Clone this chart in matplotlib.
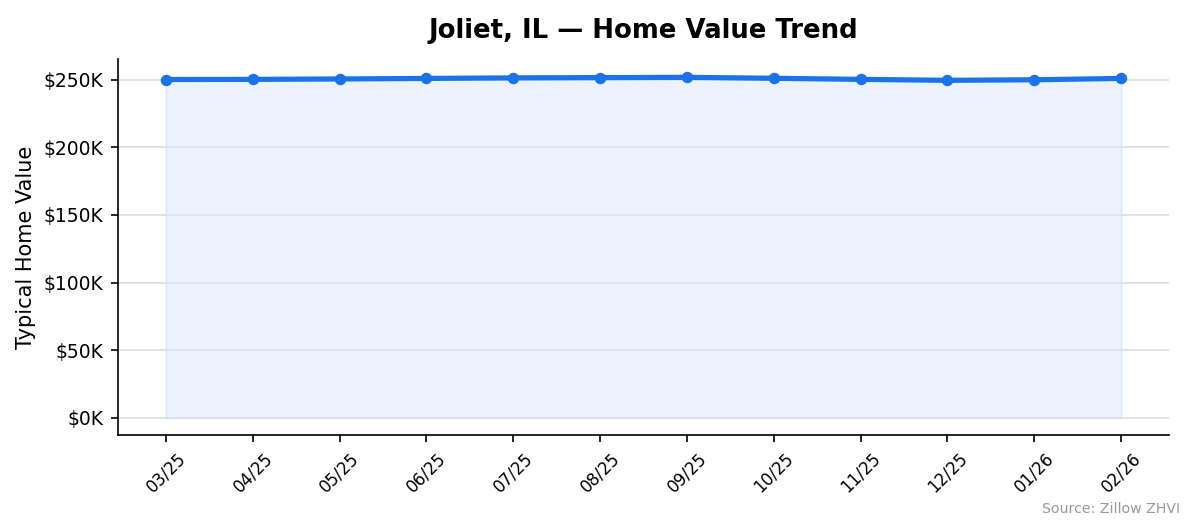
import matplotlib.pyplot as plt
from matplotlib.ticker import FuncFormatter

months = ["03/25", "04/25", "05/25", "06/25", "07/25", "08/25",
          "09/25", "10/25", "11/25", "12/25", "01/26", "02/26"]
values = [250000, 250100, 250400, 250800, 251200, 251400,
          251600, 250900, 250100, 249400, 249800, 250800]

fig, ax = plt.subplots(figsize=(7.96, 3.527), dpi=150)
x = range(len(months))
ax.fill_between(x, values, 0, color="#dbe8fc", alpha=0.55, edgecolor="#c8dcf8", lw=0.6)
ax.plot(x, values, color="#1a73e8", lw=2.5, marker="o", ms=4.5)

ax.set_xticks(list(x))
ax.set_xticklabels(months, rotation=45, fontsize=8)
ax.set_yticks(range(0, 250001, 50000))
ax.yaxis.set_major_formatter(FuncFormatter(lambda v, p: f"${v/1000:.0f}K"))
ax.tick_params(axis="y", labelsize=9)
ax.set_ylim(-12500, 265000)
ax.set_xlim(-0.55, 11.55)
ax.grid(axis="y", color="#dddddd", lw=0.8)
ax.set_axisbelow(True)
for s in ("top", "right"):
    ax.spines[s].set_visible(False)
ax.set_ylabel("Typical Home Value", fontsize=10)
ax.set_title("Joliet, IL — Home Value Trend", fontsize=12.5, fontweight="bold", pad=10)
fig.text(0.988, 0.03, "Source: Zillow ZHVI", ha="right", fontsize=6.8, color="#999999")
fig.subplots_adjust(left=0.099, right=0.979, top=0.888, bottom=0.178)
fig.savefig("out.png")
